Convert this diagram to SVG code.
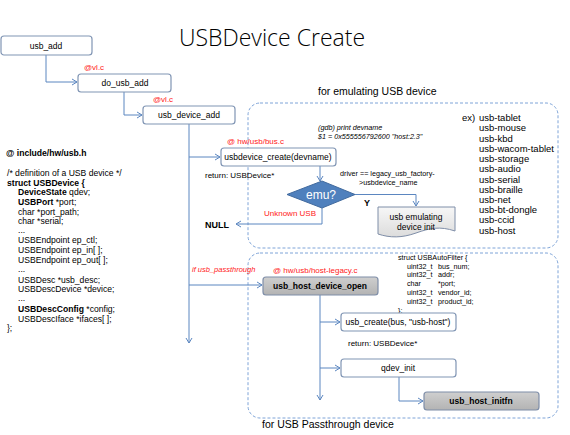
<svg xmlns="http://www.w3.org/2000/svg" width="570" height="435" viewBox="0 0 570 435">
<defs>
<marker id="arr" markerWidth="8" markerHeight="8" refX="6" refY="4" orient="auto" markerUnits="userSpaceOnUse">
<path d="M1,1 L6,4 L1,7" fill="none" stroke="#5b86c0" stroke-width="1"/>
</marker>
<linearGradient id="gray" x1="0" y1="0" x2="0" y2="1">
<stop offset="0" stop-color="#cfcfcf"/><stop offset="1" stop-color="#b3b3b3"/>
</linearGradient>
<linearGradient id="doc" x1="0" y1="0" x2="0" y2="1">
<stop offset="0" stop-color="#f7f7f7"/><stop offset="1" stop-color="#dcdcdc"/>
</linearGradient>
</defs>
<style>
text{font-family:"Liberation Sans",Arial,sans-serif;fill:#000}
.box{fill:#fff;stroke:#8095b4;stroke-width:1.2}
.gbox{fill:url(#gray);stroke:#7f8ea8;stroke-width:1.2}
.lbl{font-size:8.5px;text-anchor:middle}
.blbl{font-size:8.5px;text-anchor:middle;font-weight:bold}
.red{fill:#ff2020;font-size:8px}
.c{fill:none;stroke:#5b86c0;stroke-width:1}
.dash{fill:none;stroke:#7ea4d8;stroke-width:1;stroke-dasharray:3,2}
.code{font-size:8px}
.scode{font-size:8.6px}
.sm{font-size:7.2px}
.ex{font-size:9.5px}
.b{font-weight:bold}
</style>
<rect width="570" height="435" fill="#fff"/>
<text x="272" y="46" text-anchor="middle" style="font-family:'Open Sans','Liberation Sans',sans-serif;font-size:23px;font-weight:300">USBDevice Create</text>

<g id="emul-region">
<rect class="dash" x="248" y="103" width="310" height="145" rx="12"/>
<text x="318" y="95" style="font-size:10.5px">for emulating USB device</text>
<text x="318" y="130" class="sm" font-style="italic">(gdb) print devname</text>
<text x="318" y="139" class="sm" font-style="italic">$1 = 0x555556792600 "host:2.3"</text>
<text x="462" y="121" class="ex">ex)</text>
<g class="ex">
<text x="479" y="121">usb-tablet</text>
<text x="479" y="131">usb-mouse</text>
<text x="479" y="142">usb-kbd</text>
<text x="479" y="152">usb-wacom-tablet</text>
<text x="479" y="162">usb-storage</text>
<text x="479" y="172">usb-audio</text>
<text x="479" y="183">usb-serial</text>
<text x="479" y="193">usb-braille</text>
<text x="479" y="203">usb-net</text>
<text x="479" y="213">usb-bt-dongle</text>
<text x="479" y="223">usb-ccid</text>
<text x="479" y="234">usb-host</text>
</g>
<text x="340" y="176" class="sm">driver == legacy_usb_factory-</text>
<text x="359" y="185" class="sm">&gt;usbdevice_name</text>
</g>

<g id="pass-region">
<rect class="dash" x="248" y="253" width="310" height="165" rx="12"/>
<text x="262" y="428" style="font-size:10.5px">for USB Passthrough device</text>
<g class="sm">
<text x="398" y="260">struct USBAutoFilter {</text>
<text x="407" y="269">uint32_t</text><text x="438" y="269">bus_num;</text>
<text x="407" y="277">uint32_t</text><text x="438" y="277">addr;</text>
<text x="407" y="286">char</text><text x="438" y="286">*port;</text>
<text x="407" y="295">uint32_t</text><text x="438" y="295">vendor_id;</text>
<text x="407" y="304">uint32_t</text><text x="438" y="304">product_id;</text>
<text x="398" y="313">};</text>
</g>
</g>

<g id="struct-text" class="scode">
<text x="6" y="156" class="b">@ include/hw/usb.h</text>
<text x="7" y="176">/* definition of a USB device */</text>
<text x="7" y="186" class="b">struct USBDevice {</text>
<text x="18" y="195"><tspan class="b">DeviceState</tspan> qdev;</text>
<text x="18" y="205"><tspan class="b">USBPort</tspan> *port;</text>
<text x="18" y="215">char *port_path;</text>
<text x="18" y="224">char *serial;</text>
<text x="18" y="233">...</text>
<text x="18" y="243">USBEndpoint ep_ctl;</text>
<text x="18" y="253">USBEndpoint ep_in[ ];</text>
<text x="18" y="263">USBEndpoint ep_out[ ];</text>
<text x="18" y="272">...</text>
<text x="18" y="283">USBDesc *usb_desc;</text>
<text x="18" y="292">USBDescDevice *device;</text>
<text x="18" y="301">...</text>
<text x="18" y="312"><tspan class="b">USBDescConfig</tspan> *config;</text>
<text x="18" y="322">USBDescIface *ifaces[ ];</text>
<text x="7" y="331">};</text>
</g>

<g id="connectors">
<path class="c" d="M46,55 V82 H77" marker-end="url(#arr)"/>
<path class="c" d="M124,92 V115 H142" marker-end="url(#arr)"/>
<path class="c" d="M189,124 V343" marker-end="url(#arr)"/>
<path class="c" d="M189,157 H220" marker-end="url(#arr)"/>
<path class="c" d="M320,166 V181" marker-end="url(#arr)"/>
<path class="c" d="M322,208 V224 H236" marker-end="url(#arr)"/>
<path class="c" d="M355,194.5 H416 V206" marker-end="url(#arr)"/>
<path class="c" d="M189,285 H262" marker-end="url(#arr)"/>
<path class="c" d="M320,295 V400" marker-end="url(#arr)"/>
<path class="c" d="M320,322 H340" marker-end="url(#arr)"/>
<path class="c" d="M320,368 H340" marker-end="url(#arr)"/>
<path class="c" d="M399,377 V401 H423" marker-end="url(#arr)"/>
</g>

<g id="usb_add">
<rect class="box" x="1" y="36" width="91" height="19" rx="3"/>
<text x="46" y="49" class="lbl">usb_add</text>
</g>
<g id="do_usb_add">
<text x="84" y="70" class="red">@vl.c</text>
<rect class="box" x="78" y="74" width="93" height="18" rx="3"/>
<text x="125" y="86" class="lbl">do_usb_add</text>
</g>
<g id="usb_device_add">
<text x="153" y="102" class="red">@vl.c</text>
<rect class="box" x="143" y="106" width="92" height="18" rx="3"/>
<text x="189" y="118" class="lbl">usb_device_add</text>
</g>
<g id="usbdevice_create">
<text x="227" y="144" class="red">@ hw/usb/bus.c</text>
<rect class="box" x="221" y="148" width="115" height="18" rx="3"/>
<text x="278" y="160" class="lbl">usbdevice_create(devname)</text>
<text x="205" y="178" class="code">return: USBDevice*</text>
</g>
<g id="emu">
<polygon points="322,181 355,194.5 322,208 287,194.5" fill="#4f80bd" stroke="#416a9e" stroke-width="1"/>
<text x="321" y="199" text-anchor="middle" style="font-size:12px;fill:#fff">emu?</text>
<text x="290" y="216" text-anchor="middle" class="red">Unknown USB</text>
<text x="367" y="206" text-anchor="middle" style="font-size:9px;font-weight:bold">Y</text>
</g>
<g id="null">
<text x="205" y="228" style="font-size:9px;font-weight:bold">NULL</text>
</g>
<g id="emul_init">
<path d="M378,207 H455 V231 C440,226 430,228 416,233 C402,238 390,238 378,234 Z" fill="url(#doc)" stroke="#7f8ea8" stroke-width="1"/>
<text x="416" y="220" class="lbl">usb emulating</text>
<text x="416" y="230" class="lbl">device init</text>
</g>
<g id="usb_host_device_open">
<text x="192" y="272" class="red" font-style="italic" style="font-size:7.5px">if usb_passthrough</text>
<text x="273" y="273" class="red">@ hw/usb/host-legacy.c</text>
<rect class="gbox" x="263" y="277" width="115" height="18" rx="3"/>
<text x="320" y="289" class="blbl">usb_host_device_open</text>
</g>
<g id="usb_create">
<rect class="box" x="341" y="313" width="115" height="18" rx="3"/>
<text x="398" y="325" class="lbl">usb_create(bus, "usb-host")</text>
<text x="348" y="346" class="code">return: USBDevice*</text>
</g>
<g id="qdev_init">
<rect class="box" x="341" y="359" width="115" height="18" rx="3"/>
<text x="398" y="371" class="lbl">qdev_init</text>
</g>
<g id="usb_host_initfn">
<rect class="gbox" x="424" y="392" width="115" height="18" rx="3"/>
<text x="481" y="404" class="blbl">usb_host_initfn</text>
</g>
</svg>
